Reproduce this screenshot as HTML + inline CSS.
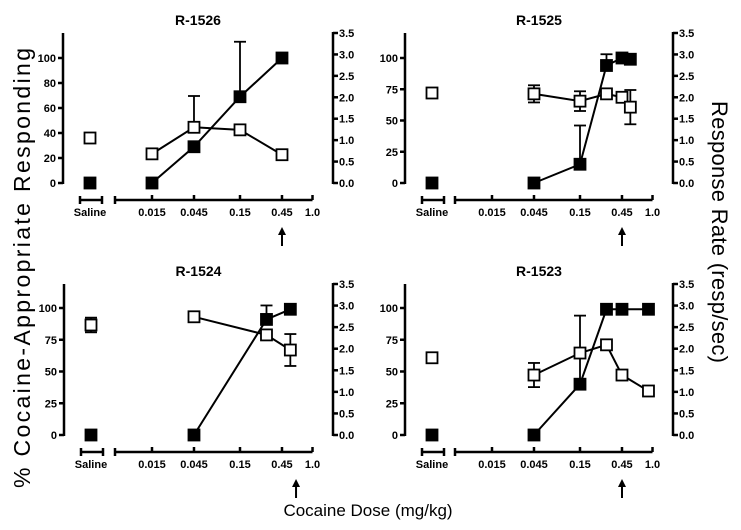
<!DOCTYPE html>
<html><head><meta charset="utf-8"><style>
html,body{margin:0;padding:0;background:#fff;}
svg{display:block;font-family:"Liberation Sans",Arial,sans-serif;}
</style></head><body>
<svg id="chart" width="741" height="530" viewBox="0 0 741 530" xmlns="http://www.w3.org/2000/svg">
<text transform="translate(30,268) rotate(-90)" text-anchor="middle" font-size="23" textLength="440" lengthAdjust="spacing">%  Cocaine-Appropriate  Responding</text>
<text transform="translate(712,232) rotate(90)" text-anchor="middle" font-size="22" textLength="262" lengthAdjust="spacing">Response Rate    (resp/sec)</text>
<text x="368" y="516" text-anchor="middle" font-size="17">Cocaine Dose (mg/kg)</text>
<g id="plots"></g>
</svg>
<script>
// ---- Data ----
var tickDoses = [0.015, 0.045, 0.15, 0.45, 1.0];
var tickLabels = ["0.015", "0.045", "0.15", "0.45", "1.0"];
var rightTicks = [0, 0.5, 1.0, 1.5, 2.0, 2.5, 3.0, 3.5];
var leftTicksA = [0, 20, 40, 60, 80, 100];
var leftTicksB = [0, 25, 50, 75, 100];

// R-1526
var p1Doses = [0.015, 0.045, 0.15, 0.45];
var p1Pct = [0, 29, 69, 100];
var p1PctErrUp = [null, null, 44, null];
var p1Rate = [0.68, 1.3, 1.24, 0.66];
var p1RateErrUp = [null, 0.73, null, null];
var p1RateErr = [null, null, null, null];
var p1SalinePct = 0, p1SalineRate = 1.05, p1SalineRateErr = null;

// R-1525
var p2Doses = [0.045, 0.15, 0.3, 0.45, 0.56];
var p2Pct = [0, 15, 94, 100, 99];
var p2PctErrUp = [null, 31, 9, null, null];
var p2Rate = [2.08, 1.91, 2.08, 2.0, 1.77];
var p2RateErrUp = [null, null, null, null, null];
var p2RateErr = [0.2, 0.23, null, null, 0.4];
var p2SalinePct = 0, p2SalineRate = 2.1, p2SalineRateErr = null;

// R-1524
var p3Doses = [0.045, 0.3, 0.56];
var p3Pct = [0, 91, 99];
var p3PctErrUp = [null, 11, null];
var p3Rate = [2.74, 2.32, 1.97];
var p3RateErrUp = [null, null, null];
var p3RateErr = [null, null, 0.37];
var p3SalinePct = 0, p3SalineRate = 2.55, p3SalineRateErr = 0.17;

// R-1523
var p4Doses = [0.045, 0.15, 0.3, 0.45, 0.9];
var p4Pct = [0, 40, 99, 99, 99];
var p4PctErrUp = [null, 54, null, null, null];
var p4Rate = [1.39, 1.9, 2.09, 1.39, 1.02];
var p4RateErrUp = [null, null, null, null, null];
var p4RateErr = [0.28, null, null, null, null];
var p4SalinePct = 0, p4SalineRate = 1.79, p4SalineRateErr = null;

var NS = "http://www.w3.org/2000/svg";
var root = document.getElementById("plots");
function mk(tag, attrs, parent) {
  var e = document.createElementNS(NS, tag);
  for (var k in attrs) e.setAttribute(k, attrs[k]);
  (parent || root).appendChild(e);
  return e;
}

function drawPanel(id, title, L, W, B, H, pctPx100, x015off, leftTicks, doses, pct, pctErrUp, rate, rateErrUp, rateErr, salPct, salRate, salRateErr, arrowDose) {
  var g = mk("g", {});
  
  
  var R = L + W;
  var yPct = function (v) { return B - v * pctPx100 / 100; };
  var yRate = function (v) { return B - v * H / 3.5; };
  var xDose = function (d) { return L + x015off + (Math.log10(d) - Math.log10(0.015)) * 88; };
  var xSal = L + 27;
  var t = mk("text", { x: (L + R) / 2, y: B - H - 8, "text-anchor": "middle", "font-size": "14", "font-weight": "bold" }, g);
  t.textContent = title;
  
  
  var st = { stroke: "#000", "stroke-width": "2.5", fill: "none" };
  var la = mk("line", Object.assign({ x1: L, y1: B - H, x2: L, y2: B + 1 }, st), g);
  
  
  leftTicks.forEach(function (v) {
    mk("line", Object.assign({ x1: L - 5, y1: yPct(v), x2: L, y2: yPct(v) }, st), g);
    var tl = mk("text", { x: L - 7, y: yPct(v) + 4, "text-anchor": "end", "font-size": "11", "font-weight": "bold" }, g);
    tl.textContent = v;
    
    
  });
  var ra = mk("line", Object.assign({ x1: R, y1: B - H - 1, x2: R, y2: B + 1 }, st), g);
  
  
  rightTicks.forEach(function (v) {
    mk("line", Object.assign({ x1: R, y1: yRate(v), x2: R + 5, y2: yRate(v) }, st), g);
    var tr = mk("text", { x: R + 6, y: yRate(v) + 4, "font-size": "11", "font-weight": "bold" }, g);
    tr.textContent = v.toFixed(1);
    
    
  });
  var ax = B + 17;
  mk("line", Object.assign({ x1: L + 17, y1: ax, x2: L + 39, y2: ax }, st), g);
  mk("line", Object.assign({ x1: L + 17, y1: ax - 4, x2: L + 17, y2: ax + 4 }, st), g);
  mk("line", Object.assign({ x1: L + 39, y1: ax - 4, x2: L + 39, y2: ax + 4 }, st), g);
  var xa = mk("line", Object.assign({ x1: L + x015off - 37, y1: ax, x2: xDose(1.0), y2: ax }, st), g);
  
  
  mk("line", Object.assign({ x1: L + x015off - 37, y1: ax - 4, x2: L + x015off - 37, y2: ax + 4 }, st), g);
  var sl = mk("text", { x: xSal, y: ax + 16, "text-anchor": "middle", "font-size": "11", "font-weight": "bold" }, g);
  sl.textContent = "Saline";
  
  
  tickDoses.forEach(function (d, i) {
    mk("line", Object.assign({ x1: xDose(d), y1: ax - 5, x2: xDose(d), y2: ax }, st), g);
    var xl = mk("text", { x: xDose(d), y: ax + 16, "text-anchor": "middle", "font-size": "11", "font-weight": "bold" }, g);
    xl.textContent = tickLabels[i];
    
    
  });
  var axx = xDose(arrowDose);
  var ar = mk("g", {}, g);
  
  
  mk("line", { x1: axx, y1: B + 50, x2: axx, y2: B + 63, stroke: "#000", "stroke-width": "2" }, ar);
  mk("polygon", { points: (axx - 4) + "," + (B + 52) + " " + (axx + 4) + "," + (B + 52) + " " + axx + "," + (B + 44), fill: "#000" }, ar);
  function ebar(x, y1, y2, capTop, capBot) {
    mk("line", { x1: x, y1: y1, x2: x, y2: y2, stroke: "#000", "stroke-width": "1.8" }, g);
    if (capTop) mk("line", { x1: x - 6, y1: y2, x2: x + 6, y2: y2, stroke: "#000", "stroke-width": "1.8" }, g);
    if (capBot) mk("line", { x1: x - 6, y1: y1, x2: x + 6, y2: y1, stroke: "#000", "stroke-width": "1.8" }, g);
  }
  doses.forEach(function (d, i) {
    if (pctErrUp[i] != null) ebar(xDose(d), yPct(pct[i]), yPct(pct[i] + pctErrUp[i]), true, false);
    if (rateErrUp[i] != null) ebar(xDose(d), yRate(rate[i]), yRate(rate[i] + rateErrUp[i]), true, false);
    if (rateErr[i] != null) ebar(xDose(d), yRate(rate[i] - rateErr[i]), yRate(rate[i] + rateErr[i]), true, true);
  });
  if (salRateErr != null) ebar(xSal, yRate(salRate - salRateErr), yRate(salRate + salRateErr), true, true);
  var pPts = doses.map(function (d, i) { return xDose(d) + "," + yPct(pct[i]); }).join(" ");
  var rPts = doses.map(function (d, i) { return xDose(d) + "," + yRate(rate[i]); }).join(" ");
  var pl = mk("polyline", { points: pPts, fill: "none", stroke: "#000", "stroke-width": "2" }, g);
  
  
  var rl = mk("polyline", { points: rPts, fill: "none", stroke: "#000", "stroke-width": "2" }, g);
  
  
  function sq(x, y, filled, name) {
    var s = mk("rect", { x: x - 5.5, y: y - 5.5, width: 11, height: 11, fill: filled ? "#000" : "#fff", stroke: "#000", "stroke-width": "1.8" }, g);
    
    
  }
  doses.forEach(function (d, i) { sq(xDose(d), yRate(rate[i]), false, 'rate-point'); });
  doses.forEach(function (d, i) { sq(xDose(d), yPct(pct[i]), true, 'percent-point'); });
  sq(xSal, yRate(salRate), false, 'saline-rate-point');
  sq(xSal, yPct(salPct), true, 'saline-percent-point');
}

drawPanel("r1526", "R-1526", 63, 270, 183, 150, 125, 89, leftTicksA, p1Doses, p1Pct, p1PctErrUp, p1Rate, p1RateErrUp, p1RateErr, p1SalinePct, p1SalineRate, p1SalineRateErr, 0.45);
drawPanel("r1525", "R-1525", 405, 268, 183, 150, 125, 87, leftTicksB, p2Doses, p2Pct, p2PctErrUp, p2Rate, p2RateErrUp, p2RateErr, p2SalinePct, p2SalineRate, p2SalineRateErr, 0.45);
drawPanel("r1524", "R-1524", 64, 269, 435, 151, 127, 88, leftTicksB, p3Doses, p3Pct, p3PctErrUp, p3Rate, p3RateErrUp, p3RateErr, p3SalinePct, p3SalineRate, p3SalineRateErr, 0.65);
drawPanel("r1523", "R-1523", 405, 268, 435, 151, 127, 87, leftTicksB, p4Doses, p4Pct, p4PctErrUp, p4Rate, p4RateErrUp, p4RateErr, p4SalinePct, p4SalineRate, p4SalineRateErr, 0.45);
</script>
</body></html>
